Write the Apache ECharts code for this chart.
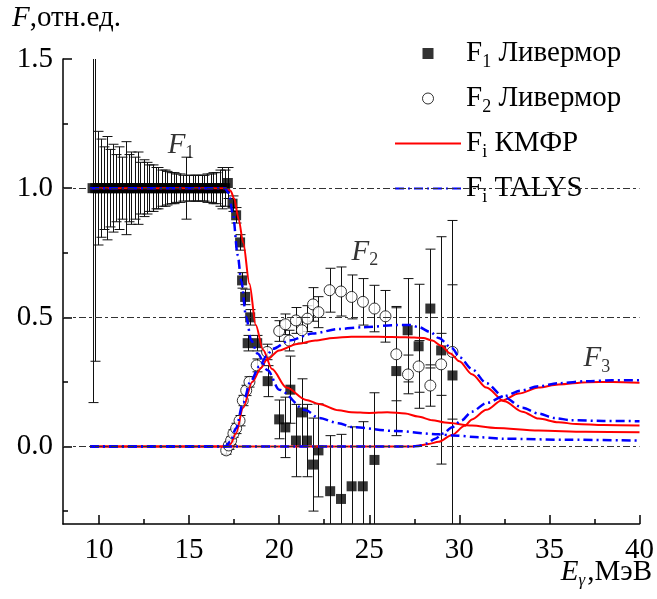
<!DOCTYPE html>
<html>
<head>
<meta charset="utf-8">
<script src="https://cdn.jsdelivr.net/npm/echarts@6/dist/echarts.min.js"></script>
<style>
  html, body { margin: 0; padding: 0; background: #fff; }
  #chart { width: 657px; height: 599px; }
</style>
</head>
<body>
<div id="chart"></div>
<script>
// F1 Livermore (E, value, error)
const f1E = [9.64, 9.79, 9.95, 10.1, 10.3, 10.45, 10.6, 10.8, 10.95, 11.1, 11.3, 11.5, 11.65, 11.8, 12.0, 12.15,
  12.3, 12.5, 12.65, 12.8, 13.0, 13.15, 13.3, 13.5, 13.65, 13.8, 14.0, 14.15, 14.3, 14.5, 14.65, 14.85, 15.0,
  15.2, 15.35, 15.5, 15.7, 15.85, 16.0, 16.2, 16.35, 16.5, 16.7, 16.85, 17.0, 17.15,
  17.41, 17.61, 17.83, 17.94, 18.11, 18.39, 18.25, 18.78, 19.36, 20.0, 20.34, 20.62, 20.93, 21.26, 21.54,
  21.88, 22.18, 22.83, 23.43, 24.02, 24.64, 25.29, 26.5, 27.13, 27.74, 28.39, 28.99, 29.62];
const f1Y = [1.0, 1.0, 1.0, 1.0, 1.0, 1.0, 1.0, 1.0, 1.0, 1.0, 1.0, 1.0, 1.0, 1.0, 1.0, 1.0,
  1.0, 1.0, 1.0, 1.0, 1.0, 1.0, 1.0, 1.0, 1.0, 1.0, 1.0, 1.0, 1.0, 1.0, 1.0, 1.0, 1.0,
  1.0, 1.0, 1.0, 1.0, 1.0, 1.0, 1.0, 1.0, 1.0, 1.0, 1.0, 1.0, 1.02,
  0.94, 0.895, 0.79, 0.643, 0.579, 0.50, 0.40, 0.40, 0.253, 0.105, 0.074, 0.22, 0.023, 0.132, 0.023,
  -0.07, -0.015, -0.173, -0.203, -0.154, -0.154, -0.052, 0.292, 0.45, 0.388, 0.534, 0.372, 0.275];
const f1Err = [0.83, 0.67, 0.22, 0.19, 0.16, 0.2, 0.15, 0.17, 0.13, 0.16, 0.12, 0.18, 0.13, 0.14, 0.12, 0.14,
  0.1, 0.11, 0.1, 0.09, 0.09, 0.08, 0.08, 0.07, 0.07, 0.065, 0.06, 0.06, 0.055, 0.055, 0.05, 0.12, 0.05,
  0.05, 0.05, 0.05, 0.05, 0.05, 0.055, 0.055, 0.06, 0.06, 0.07, 0.08, 0.07, 0.06,
  0.03, 0.03, 0.03, 0.03, 0.03, 0.03, 0.03, 0.03, 0.06, 0.075, 0.117, 0.13, 0.14, 0.13, 0.14,
  0.18, 0.18, 0.215, 0.25, 0.23, 0.25, 0.26, 0.25, 0.2, 0.24, 0.23, 0.44, 0.6];

// F2 Livermore (E, value, error)
const f2E = [17.06, 17.2, 17.33, 17.46, 17.61, 17.8, 17.98, 18.17, 18.35, 18.75, 19.33, 20.0, 20.34, 20.56,
  20.93, 21.26, 21.57, 21.88, 22.18, 22.8, 23.43, 24.02, 24.65, 25.29, 25.9, 26.5, 27.15, 27.74, 28.39, 28.99, 29.62];
const f2Y = [-0.015, 0.004, 0.023, 0.05, 0.07, 0.1, 0.178, 0.217, 0.25, 0.314, 0.366, 0.447, 0.473, 0.41,
  0.488, 0.45, 0.495, 0.55, 0.52, 0.605, 0.60, 0.579, 0.56, 0.534, 0.504, 0.357, 0.279, 0.31, 0.236, 0.318, 0.366];
const f2Err = [0.015, 0.015, 0.015, 0.015, 0.02, 0.02, 0.02, 0.02, 0.02, 0.025, 0.03, 0.04, 0.04, 0.04,
  0.05, 0.05, 0.05, 0.065, 0.06, 0.085, 0.095, 0.085, 0.09, 0.09, 0.1, 0.18, 0.075, 0.1, 0.08, 0.12, 0.26];

// КМФР curves [E, F]
const kmfrF1 = [[9.5, 1], [17.0, 1], [17.3, 0.99], [17.5, 0.96], [17.75, 0.88], [18.0, 0.79], [18.35, 0.63],
  [18.7, 0.47], [19.1, 0.375], [19.6, 0.30], [20.4, 0.228], [21.5, 0.18], [22.2, 0.165], [23.3, 0.14],
  [24.0, 0.133], [25.0, 0.13], [26.0, 0.133], [27.0, 0.128], [27.7, 0.116], [28.5, 0.102], [29.2, 0.093],
  [30.7, 0.081], [32.0, 0.072], [34.4, 0.062], [37.0, 0.057], [40.0, 0.055]];
const kmfrF2 = [[9.5, 0], [17.0, 0], [17.3, 0.01], [17.6, 0.05], [18.0, 0.15], [18.5, 0.25], [19.0, 0.305],
  [19.3, 0.335], [20.0, 0.372], [21.0, 0.397], [22.0, 0.41], [23.0, 0.42], [24.0, 0.425], [25.5, 0.425],
  [27.0, 0.423], [28.0, 0.42], [28.5, 0.41], [29.0, 0.39], [29.5, 0.36], [30.0, 0.33], [30.7, 0.28],
  [31.5, 0.228], [32.5, 0.175], [33.5, 0.135], [34.4, 0.108], [35.5, 0.094], [36.5, 0.087], [38.0, 0.083], [40.0, 0.081]];
const kmfrF3 = [[9.5, 0], [27.3, 0], [27.8, 0.004], [28.3, 0.01], [28.85, 0.018], [29.6, 0.045], [30.3, 0.08],
  [30.7, 0.105], [31.5, 0.142], [32.35, 0.178], [33.3, 0.205], [34.4, 0.228], [35.5, 0.24], [37.1, 0.249],
  [38.5, 0.25], [40.0, 0.247]];

// TALYS curves [E, F]
const talysF1 = [[9.5, 1], [17.0, 1], [17.2, 0.98], [17.43, 0.90], [17.7, 0.74], [17.89, 0.643], [18.17, 0.5],
  [18.45, 0.41], [18.8, 0.36], [19.36, 0.295], [20.0, 0.22], [21.48, 0.14], [22.2, 0.11], [23.3, 0.09],
  [24.05, 0.075], [26.45, 0.06], [28.85, 0.047], [29.6, 0.043], [31.1, 0.036], [32.5, 0.03], [36.0, 0.026], [40.0, 0.023]];
const talysF2 = [[9.5, 0], [17.0, 0], [17.3, 0.02], [17.6, 0.07], [18.0, 0.17], [18.4, 0.25], [18.9, 0.31],
  [19.3, 0.35], [19.64, 0.378], [20.56, 0.41], [21.85, 0.437], [23.3, 0.455], [24.7, 0.462], [26.5, 0.47],
  [27.3, 0.47], [27.74, 0.462], [28.4, 0.443], [28.85, 0.42], [29.6, 0.38], [30.0, 0.346], [30.7, 0.3],
  [31.5, 0.245], [32.5, 0.19], [33.5, 0.15], [34.4, 0.127], [35.3, 0.11], [36.2, 0.102], [38.0, 0.099], [40.0, 0.098]];
const talysF3 = [[9.5, 0], [27.3, 0], [27.74, 0.002], [28.2, 0.012], [28.66, 0.03], [29.1, 0.05], [29.6, 0.075],
  [30.1, 0.1], [30.7, 0.135], [31.5, 0.168], [32.5, 0.195], [33.4, 0.216], [34.4, 0.233], [35.5, 0.245],
  [37.1, 0.253], [38.5, 0.256], [40.0, 0.256]];

// ticks
const xMajor = [10, 15, 20, 25, 30, 35, 40];
const xMinor = [12.5, 17.5, 22.5, 27.5, 32.5, 37.5];
const yMajor = [0, 0.5, 1.0, 1.5];
const yMinor = [-0.25, 0.25, 0.75, 1.25];
const refLines = [0, 0.5, 1.0];

// curve labels F1, F2, F3
const annotE = [14.55, 24.76, 37.63];
const annotY = [1.167, 0.752, 0.341];
const annotSub = ['1', '2', '3'];

const serif = 'Liberation Serif';
const FS = 29;
const rich = {
  i: { fontFamily: serif, fontStyle: 'italic', fontSize: FS, color: '#000' },
  n: { fontFamily: serif, fontSize: FS, color: '#000' },
  s: { fontFamily: serif, fontSize: 18, color: '#000', padding: [17, 0, 0, 0] },
  si: { fontFamily: serif, fontStyle: 'italic', fontSize: 17, color: '#000', padding: [17, 2, 0, 0] }
};

const RED = '#ff0000';
const BLUE = '#0000ff';
const DASHDOT = [9, 4, 2, 4];

function errorBar(params, api) {
  const x = api.value(0), y = api.value(1), e = api.value(2);
  const hi = api.coord([x, y + e]);
  const lo = api.coord([x, y - e]);
  const px = Math.round(hi[0]) + 0.5;
  const w = 5;
  const st = { stroke: '#111', lineWidth: 1 };
  return {
    type: 'group',
    children: [
      { type: 'line', shape: { x1: px, y1: hi[1], x2: px, y2: lo[1] }, style: st },
      { type: 'line', shape: { x1: px - w, y1: hi[1], x2: px + w, y2: hi[1] }, style: st },
      { type: 'line', shape: { x1: px - w, y1: lo[1], x2: px + w, y2: lo[1] }, style: st }
    ]
  };
}

const f1Pts = f1E.map((e, i) => [e, f1Y[i], f1Err[i]]);
const f2Pts = f2E.map((e, i) => [e, f2Y[i], f2Err[i]]);

function curve(name, data, color, dash, width) {
  return {
    name: name, type: 'line', data: data, symbol: 'none', smooth: 0.3, smoothMonotone: 'x',
    lineStyle: { color: color, width: width, type: dash }, itemStyle: { color: color }, z: 4
  };
}

const legendNames = {
  'F1 Ливермор': 'F{s|1} Ливермор',
  'F2 Ливермор': 'F{s|2} Ливермор',
  'Fi КМФР': 'F{s|i} КМФР',
  'Fi TALYS': 'F{s|i} TALYS'
};

const noSymbol = { color: 'rgba(0,0,0,0)', borderColor: 'rgba(0,0,0,0)', borderWidth: 0 };

const axisCommon = {
  type: 'value',
  axisLine: { show: true, onZero: false, lineStyle: { color: '#000', width: 1.5 } },
  splitLine: { show: false }
};

let chart = echarts.init(document.getElementById('chart'));
chart.setOption({
  animation: false,
  backgroundColor: '#fff',
  grid: { left: 63, right: 15, top: 59, bottom: 75 },
  xAxis: [
    Object.assign({}, axisCommon, {
      position: 'bottom', min: 8, max: 40,
      axisTick: { inside: true, length: 9, lineStyle: { color: '#000', width: 1.5 }, customValues: xMajor },
      axisLabel: { customValues: xMajor, fontFamily: serif, fontSize: FS, color: '#000', margin: 12 }
    }),
    Object.assign({}, axisCommon, {
      position: 'bottom', offset: 0, min: 8, max: 40, axisLine: { show: false, onZero: false },
      axisTick: { inside: true, length: 5, lineStyle: { color: '#000', width: 1.5 }, customValues: xMinor },
      axisLabel: { show: false }
    })
  ],
  yAxis: [
    Object.assign({}, axisCommon, {
      position: 'left', min: -0.3, max: 1.5,
      axisTick: { inside: true, length: 9, lineStyle: { color: '#000', width: 1.5 }, customValues: yMajor },
      axisLabel: { customValues: yMajor, fontFamily: serif, fontSize: FS, color: '#000', margin: 10,
        formatter: v => v.toFixed(1) }
    }),
    Object.assign({}, axisCommon, {
      position: 'left', offset: 0, min: -0.3, max: 1.5, axisLine: { show: false, onZero: false },
      axisTick: { inside: true, length: 5, lineStyle: { color: '#000', width: 1.5 }, customValues: yMinor },
      axisLabel: { show: false }
    })
  ],
  legend: {
    orient: 'vertical', left: 394, top: 39,
    itemWidth: 66, itemHeight: 11, itemGap: 13,
    padding: [0, 6, 0, 0],
    backgroundColor: '#fff',
    symbolKeepAspect: true,
    data: [
      { name: 'F1 Ливермор', icon: 'path://M0,0L10,0L10,10L0,10Z', itemStyle: { color: '#000' } },
      { name: 'F2 Ливермор', icon: 'circle', itemStyle: { color: '#fff', borderColor: '#000', borderWidth: 1 } },
      { name: 'Fi КМФР', itemStyle: noSymbol },
      { name: 'Fi TALYS', itemStyle: noSymbol }
    ],
    formatter: name => legendNames[name],
    textStyle: { fontFamily: serif, fontSize: FS, color: '#000', rich: rich }
  },
  graphic: [
    {
      type: 'text', left: 12, top: 4,
      style: { text: '{i|F}{n|,отн.ед.}', rich: rich }
    },
    {
      type: 'text', right: 5, top: 558,
      style: { text: '{i|E}{si|γ}{n|,МэВ}', rich: rich }
    }
  ],
  series: [
    {
      name: 'ref', type: 'line', data: [], symbol: 'none',
      markLine: {
        silent: true, symbol: ['none', 'none'], label: { show: false },
        lineStyle: { color: '#333', width: 1, type: [7, 3, 3, 3] },
        data: refLines.map(v => ({ yAxis: v }))
      }
    },
    { name: 'f1err', type: 'custom', renderItem: errorBar, data: f1Pts, clip: true, z: 1 },
    { name: 'f2err', type: 'custom', renderItem: errorBar, data: f2Pts, clip: true, z: 1 },
    {
      name: 'F1 Ливермор', type: 'scatter', symbol: 'rect', symbolSize: 10,
      data: f1Pts.map(p => [p[0], p[1]]), itemStyle: { color: '#000' }, z: 2
    },
    {
      name: 'F2 Ливермор', type: 'scatter', symbol: 'circle', symbolSize: 11,
      data: f2Pts.map(p => [p[0], p[1]]),
      itemStyle: { color: '#fff', borderColor: '#000', borderWidth: 1 }, z: 3
    },
    curve('Fi КМФР', kmfrF1, RED, 'solid', 2),
    curve('Fi КМФР', kmfrF2, RED, 'solid', 2),
    curve('Fi КМФР', kmfrF3, RED, 'solid', 2),
    curve('Fi TALYS', talysF1, BLUE, DASHDOT, 2.5),
    curve('Fi TALYS', talysF2, BLUE, DASHDOT, 2.5),
    curve('Fi TALYS', talysF3, BLUE, DASHDOT, 2.5),
    {
      name: 'labels', type: 'scatter', symbolSize: 0,
      data: annotE.map((e, i) => [e, annotY[i]]),
      label: {
        show: true, position: 'inside',
        formatter: p => '{i|F}{s|' + annotSub[p.dataIndex] + '}',
        rich: rich
      },
      z: 5
    }
  ]
});
window.addEventListener('resize', () => { chart.resize(); });
</script>
</body>
</html>
